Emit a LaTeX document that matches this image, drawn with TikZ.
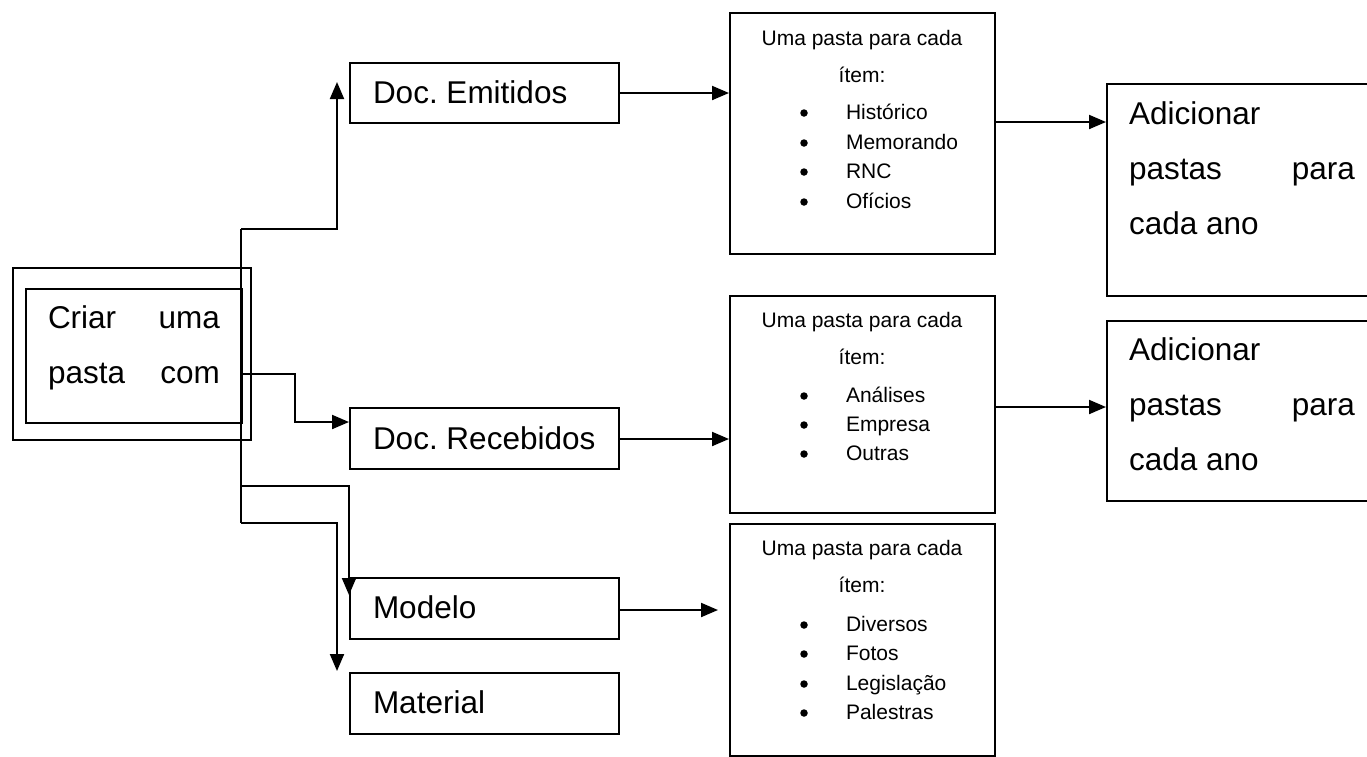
\documentclass[tikz,border=0pt]{standalone}
\usepackage{fontspec}
\setmainfont{Liberation Sans}
\usetikzlibrary{arrows.meta,calc}
\frenchspacing
\begin{document}
\frenchspacing
\begin{tikzpicture}[x=1pt,y=-1pt,
  line width=2pt,
  box/.style={draw, line width=2pt, inner sep=0pt, anchor=north west},
  big/.style={font=\fontsize{31.5}{38}\selectfont, inner sep=0pt},
  small/.style={font=\fontsize{21}{25}\selectfont, inner sep=0pt},
  dot/.style={circle, fill, draw=none, inner sep=0pt, minimum size=7.5pt},
  arr/.style={-{Triangle[length=17pt,width=14pt]}, line width=2pt}]
\clip (0,0) rectangle (1367,756);
% boxes
\node[box, minimum width=238pt, minimum height=172pt] (outer) at (12,267) {};
\node[box, minimum width=216pt, minimum height=134pt] (inner) at (25,288) {};
\node[box, minimum width=269pt, minimum height=60pt] (emit) at (349,62) {};
\node[box, minimum width=269pt, minimum height=61pt] (recv) at (349,407) {};
\node[box, minimum width=269pt, minimum height=61pt] (modelo) at (349,577) {};
\node[box, minimum width=269pt, minimum height=61pt] (material) at (349,672) {};
\node[box, minimum width=265pt, minimum height=241pt] (b1) at (729,12) {};
\node[box, minimum width=265pt, minimum height=217pt] (b2) at (729,295) {};
\node[box, minimum width=265pt, minimum height=232pt] (b3) at (729,523) {};
\node[box, minimum width=272pt, minimum height=212pt] (a1) at (1106,83) {};
\node[box, minimum width=272pt, minimum height=180pt] (a2) at (1106,320) {};
% texts in left box
\node[big, anchor=base west] (c1) at (47,328) {\makebox[172pt][s]{Criar\hfill uma}};
\node[big, anchor=base west] (c2) at (47,383) {\makebox[172pt][s]{pasta\hfill com}};
% doc boxes
\node[big, anchor=base west] (te) at (372,103) {Doc. Emitidos};
\node[big, anchor=base west] (tr) at (372,449) {Doc. Recebidos};
\node[big, anchor=base west] (tm) at (372,618) {Modelo};
\node[big, anchor=base west] (tt) at (372,713) {Material};
% adicionar boxes
\node[big, anchor=base west] (a1l1) at (1128,124) {Adicionar};
\node[big, anchor=base west] (a1l2) at (1128,179) {\makebox[226pt][s]{pastas\hfill para}};
\node[big, anchor=base west] (a1l3) at (1128,234) {cada ano};
\node[big, anchor=base west] (a2l1) at (1128,360) {Adicionar};
\node[big, anchor=base west] (a2l2) at (1128,415) {\makebox[226pt][s]{pastas\hfill para}};
\node[big, anchor=base west] (a2l3) at (1128,470) {cada ano};
% middle box 1
\node[small, anchor=base] (h1) at (862,45) {Uma pasta para cada};
\node[small, anchor=base] (i1) at (862,82) {ítem:};
\foreach \y/\t [count=\k] in {119/Histórico,149/Memorando,178/RNC,208/Ofícios}{
  \node[dot] (b1d\k) at (804,\y-6) {};
  \node[small, anchor=base west] (b1t\k) at (845,\y) {\t};
}
% middle box 2
\node[small, anchor=base] (h2) at (862,327) {Uma pasta para cada};
\node[small, anchor=base] (i2) at (862,364) {ítem:};
\foreach \y/\t [count=\k] in {402/Análises,431/Empresa,460/Outras}{
  \node[dot] (b2d\k) at (804,\y-6) {};
  \node[small, anchor=base west] (b2t\k) at (845,\y) {\t};
}
% middle box 3
\node[small, anchor=base] (h3) at (862,555) {Uma pasta para cada};
\node[small, anchor=base] (i3) at (862,592) {ítem:};
\foreach \y/\t [count=\k] in {631/Diversos,660/Fotos,690/Legislação,719/Palestras}{
  \node[dot] (b3d\k) at (804,\y-6) {};
  \node[small, anchor=base west] (b3t\k) at (845,\y) {\t};
}
% connectors from the trunk
\coordinate (t1) at (241,229);
\coordinate (t2) at (241,374);
\coordinate (t3) at (241,486);
\coordinate (t4) at (241,523);
\coordinate (e1) at (337,82);
\coordinate (r2) at (295,374);
\coordinate (recvin) at ($(recv.north west)+(0,15)$);
\coordinate (m3) at ($(modelo.north west)+(0,18)$);
\coordinate (m4) at (337,671);
\coordinate (m5) at (718,610);
\draw (t1) -- (t4);
\draw[arr] (t1) -| (e1);
\draw[arr] (t2) -- (r2) |- (recvin);
\draw[arr] (t3) -| (m3);
\draw[arr] (t4) -| (m4);
% horizontal arrows
\draw[arr] (emit.east) -- (emit.east -| b1.west);
\draw[arr] ($(recv.east)+(0,0.5)$) -- ($(recv.east -| b2.west)+(0,0.5)$);
\draw[arr] (modelo.east |- m5) -- (m5);
\draw[arr] ($(b1.north east)+(0,110)$) -- ($(a1.north west)+(0,39)$);
\draw[arr] ($(b2.north east)+(0,112)$) -- ($(a2.north west)+(0,87)$);
\end{tikzpicture}
\end{document}
